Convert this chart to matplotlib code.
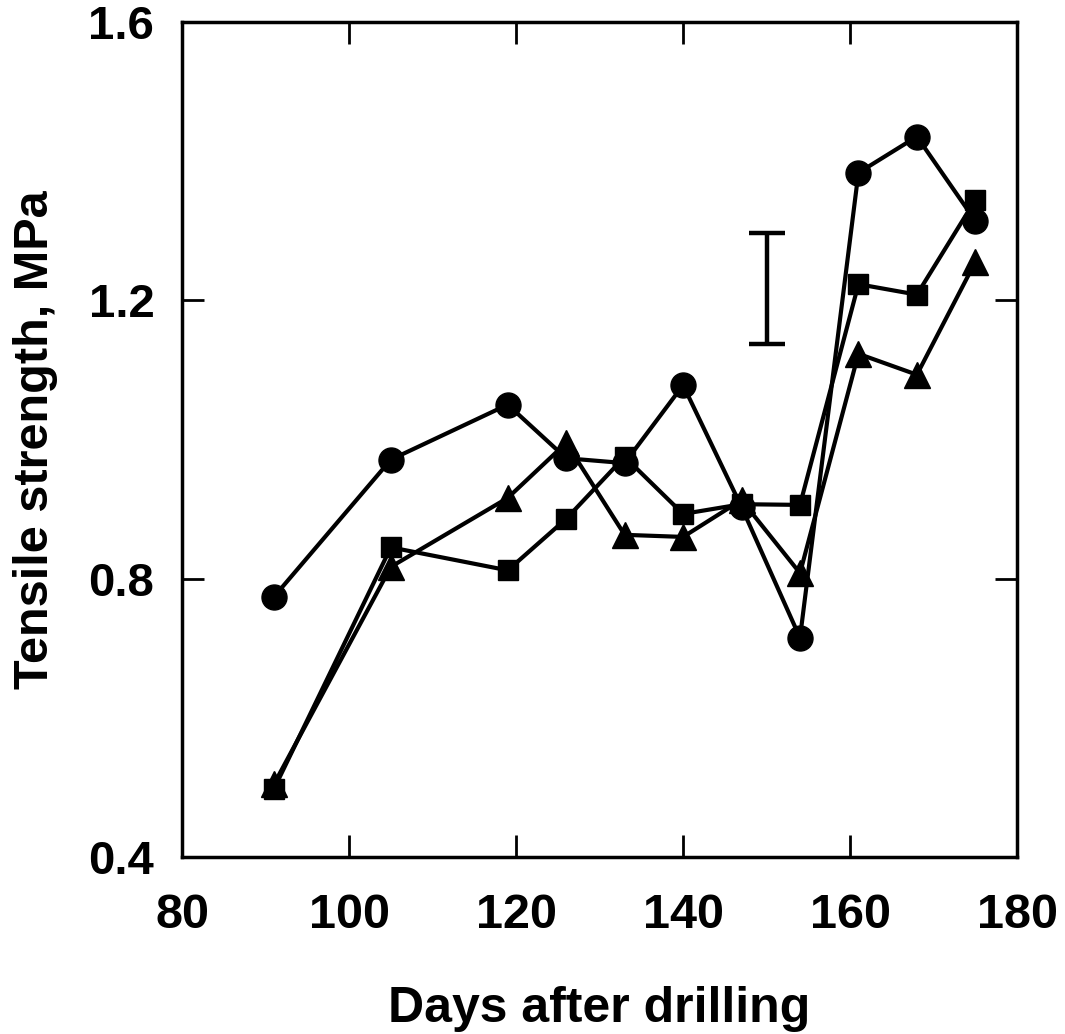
import numpy as np
import matplotlib
matplotlib.use("Agg")
import matplotlib.pyplot as plt

plt.rcParams['font.family'] = ['Liberation Sans', 'DejaVu Sans']
plt.rcParams['font.weight'] = 'bold'

days = [91, 105, 119, 126, 133, 140, 147, 154, 161, 168, 175]
circles = [0.774, 0.971, 1.050, 0.973, 0.966, 1.078, 0.903, 0.715, 1.383, 1.435, 1.314]
squares = [0.498, 0.845, 0.812, 0.886, 0.975, 0.893, 0.907, 0.906, 1.223, 1.208, 1.344]
triangles = [0.505, 0.817, 0.916, 0.995, 0.863, 0.860, 0.913, 0.808, 1.123, 1.093, 1.255]

# scatter bar drawn inside the plot
err_x = 150
err_y = 1.217
err_half = 0.08

xticks = [80, 100, 120, 140, 160, 180]
yticks = [0.4, 0.8, 1.2, 1.6]

fig = plt.figure(figsize=(10.65, 10.34), dpi=100)
ax = fig.add_axes([0.171, 0.171, 0.784, 0.808])

ax.plot(days, circles, color='black', lw=3, marker='o', ms=18, zorder=3)
ax.plot(days, squares, color='black', lw=3, marker='s', ms=15, zorder=3)
ax.plot(days, triangles, color='black', lw=3, marker='^', ms=19, zorder=3)

ax.errorbar([err_x], [err_y], yerr=[err_half], color='black', lw=3.2,
            capsize=13, capthick=3.2, fmt='none')

ax.set_xlim(80, 180)
ax.set_ylim(0.4, 1.6)
ax.set_xticks(xticks)
ax.set_yticks(yticks)
ax.set_xticklabels([str(t) for t in xticks])
ax.set_yticklabels(['%.1f' % t for t in yticks])

ax.tick_params(direction='in', length=16, width=2, top=True, right=True)
ax.tick_params(axis='x', labelsize=35, pad=26)
ax.tick_params(axis='y', labelsize=34, pad=20)
for s in ax.spines.values():
    s.set_linewidth(2.5)

ax.set_xlabel('Days after drilling', fontsize=36, fontweight='bold', labelpad=34)
ax.set_ylabel('Tensile strength, MPa', fontsize=35, fontweight='bold', labelpad=22)

fig.savefig('out.png', dpi=100)
